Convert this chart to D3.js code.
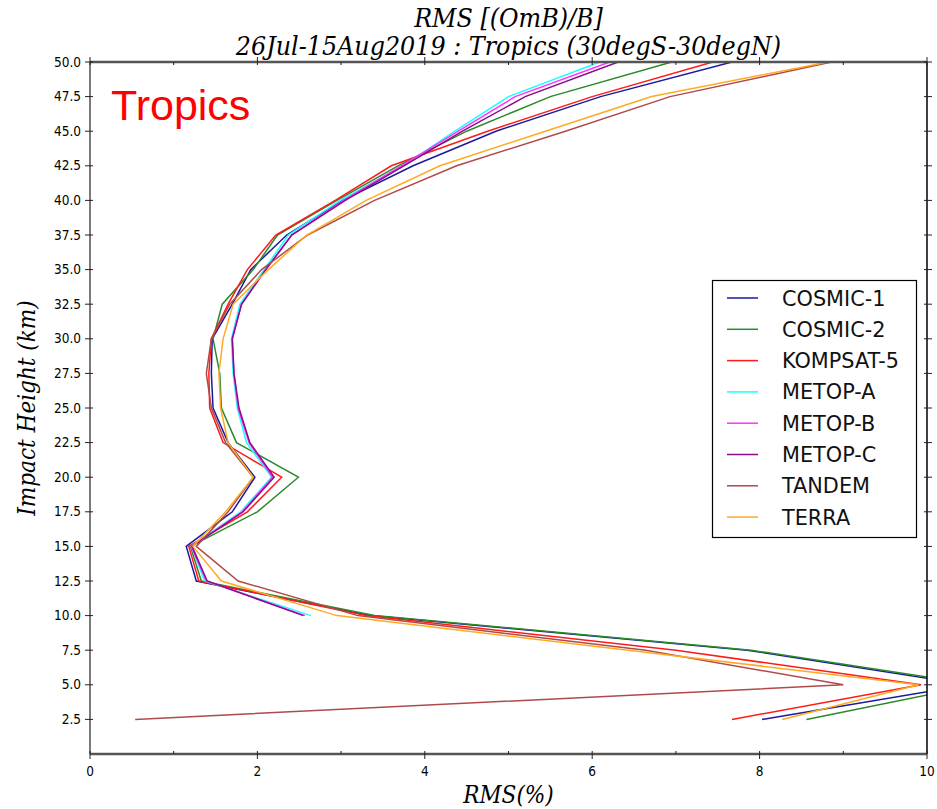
<!DOCTYPE html>
<html>
<head>
<meta charset="utf-8">
<script src="https://cdn.jsdelivr.net/npm/d3@7"></script>
<style>
  html, body { margin: 0; padding: 0; background: #fff; }
  svg { display: block; }
  .serif { font-family: "DejaVu Serif Condensed", "DejaVu Serif", serif; font-style: italic; font-stretch: condensed; }
  .tick { font-family: "DejaVu Sans Condensed", "DejaVu Sans", sans-serif; font-stretch: condensed; font-size: 13.5px; fill: #000; }
</style>
</head>
<body>
<svg id="chart" width="937" height="809"></svg>
<script>
// Impact heights (km) at which the RMS profiles are sampled
const levels = [2.5, 5, 7.5, 10, 12.5, 15, 17.5, 20, 22.5, 25, 27.5, 30, 32.5, 35, 37.5, 40, 42.5, 45, 47.5, 50];

// RMS of (O-B)/B in %, one value per level (null = no data)
const cosmic1  = [8.03, 10.5, 7.85, 3.35, 1.27, 1.15, 1.70, 1.97, 1.65, 1.47, 1.45, 1.46, 1.70, 1.92, 2.35, 3.02, 3.86, 4.85, 6.10, 7.67];
const cosmic2  = [8.56, 10.6, 7.90, 3.40, 1.33, 1.20, 2.00, 2.49, 1.75, 1.57, 1.55, 1.47, 1.58, 1.95, 2.24, 2.95, 3.68, 4.50, 5.50, 6.95];
const kompsat5 = [7.67, 9.93, 7.00, 3.30, 1.30, 1.18, 1.88, 2.29, 1.59, 1.43, 1.42, 1.45, 1.65, 1.88, 2.22, 2.93, 3.60, 4.75, 6.00, 7.44];
const metopA   = [null, null, null, 2.64, 1.37, 1.21, 1.80, 2.17, 1.87, 1.76, 1.71, 1.69, 1.79, 2.08, 2.37, 2.99, 3.74, 4.36, 5.00, 6.09];
const metopB   = [null, null, null, 2.57, 1.39, 1.21, 1.82, 2.18, 1.90, 1.77, 1.72, 1.70, 1.81, 2.10, 2.41, 3.03, 3.72, 4.40, 5.08, 6.21];
const metopC   = [null, null, null, 2.55, 1.40, 1.22, 1.83, 2.20, 1.91, 1.78, 1.72, 1.70, 1.81, 2.10, 2.41, 3.05, 3.75, 4.45, 5.20, 6.31];
const tandem   = [0.54, 9.00, 6.64, 3.20, 1.77, 1.27, 1.65, 1.95, 1.62, 1.45, 1.39, 1.45, 1.67, 2.05, 2.60, 3.40, 4.38, 5.68, 6.93, 8.86];
const terra    = [8.27, 9.90, 6.43, 2.95, 1.57, 1.23, 1.62, 1.95, 1.65, 1.56, 1.54, 1.59, 1.71, 2.13, 2.59, 3.30, 4.18, 5.44, 6.71, 8.82];

const missionNames  = ["COSMIC-1", "COSMIC-2", "KOMPSAT-5", "METOP-A", "METOP-B", "METOP-C", "TANDEM", "TERRA"];
const missionColors = ["#1a1a9c", "#2a8a2a", "#ff1a1a", "#1affff", "#ff33ff", "#8a0a8a", "#b04a4a", "#ffaa22"];
const missionValues = [cosmic1, cosmic2, kompsat5, metopA, metopB, metopC, tandem, terra];

const xMajorTicks = [0, 2, 4, 6, 8, 10];
const xMinorTicks = [1, 3, 5, 7, 9];
const yTicks = d3.range(1, 21).map(i => i * 2.5);

const titleLines = ["RMS [(OmB)/B]", "26Jul-15Aug2019 : Tropics (30degS-30degN)"];

const W = 937, H = 809;
const margin = { left: 90, right: 10, top: 62, bottom: 55 };
const x0 = margin.left, x1 = W - margin.right, y0 = margin.top, y1 = H - margin.bottom;

const x = d3.scaleLinear().domain([0, 10]).range([x0, x1]);
const y = d3.scaleLinear().domain([0, 50]).range([y1, y0]);

const svg = d3.select("#chart");

svg.append("defs").append("clipPath").attr("id", "plotClip")
  .append("rect").attr("x", x0).attr("y", y0).attr("width", x1 - x0).attr("height", y1 - y0);

// Profiles
const line = d3.line()
  .defined(d => d.v !== null)
  .x(d => x(d.v))
  .y(d => y(d.h));

const plot = svg.append("g").attr("clip-path", "url(#plotClip)");
missionValues.forEach((vals, i) => {
  const pts = levels.map((h, j) => ({ h: h, v: vals[j] }));
  plot.append("path")
    .attr("d", line(pts))
    .attr("fill", "none")
    .attr("stroke", missionColors[i])
    .attr("stroke-width", 1.5)
    .attr("stroke-linejoin", "miter");
});

// Frame
const frame = svg.append("g");
frame.append("line").attr("x1", x0).attr("x2", x0).attr("y1", y0).attr("y2", y1).attr("stroke", "#222").attr("stroke-width", 1.2);
frame.append("line").attr("x1", x1).attr("x2", x1).attr("y1", y0).attr("y2", y1).attr("stroke", "#000").attr("stroke-width", 1.5);
frame.append("line").attr("x1", x0).attr("x2", x1).attr("y1", y0).attr("y2", y0).attr("stroke", "#555").attr("stroke-width", 2.6);
frame.append("line").attr("x1", x0).attr("x2", x1).attr("y1", y1).attr("y2", y1).attr("stroke", "#555").attr("stroke-width", 2.6);

// Ticks
const tk = svg.append("g").attr("stroke", "#222").attr("stroke-width", 1);
xMajorTicks.forEach(v => {
  tk.append("line").attr("x1", x(v)).attr("x2", x(v)).attr("y1", y1 - 3).attr("y2", y1 + 5);
  tk.append("line").attr("x1", x(v)).attr("x2", x(v)).attr("y1", y0 + 3).attr("y2", y0 - 5);
});
xMinorTicks.forEach(v => {
  tk.append("line").attr("x1", x(v)).attr("x2", x(v)).attr("y1", y1 - 3).attr("y2", y1);
  tk.append("line").attr("x1", x(v)).attr("x2", x(v)).attr("y1", y0 + 3).attr("y2", y0);
});
yTicks.forEach(v => {
  tk.append("line").attr("x1", x0 - 5).attr("x2", x0 + 3).attr("y1", y(v)).attr("y2", y(v));
  tk.append("line").attr("x1", x1 - 3).attr("x2", x1 + 5).attr("y1", y(v)).attr("y2", y(v));
});

// Tick labels
svg.append("g").selectAll("text").data(xMajorTicks).join("text")
  .attr("class", "tick")
  .attr("x", d => x(d)).attr("y", y1 + 22)
  .attr("text-anchor", "middle")
  .text(d => d3.format("d")(d));

svg.append("g").selectAll("text").data(yTicks).join("text")
  .attr("class", "tick")
  .attr("x", x0 - 9).attr("y", d => y(d) + 4.5)
  .attr("text-anchor", "end")
  .text(d => d3.format(".1f")(d));

// Titles
svg.append("g").selectAll("text").data(titleLines).join("text")
  .attr("class", "serif")
  .attr("x", (x0 + x1) / 2).attr("y", (d, i) => 27 + i * 28)
  .attr("text-anchor", "middle")
  .attr("font-size", 26.5)
  .text(d => d);

svg.append("text").attr("class", "serif")
  .attr("x", (x0 + x1) / 2).attr("y", 803)
  .attr("text-anchor", "middle").attr("font-size", 24)
  .text("RMS(%)");

svg.append("text").attr("class", "serif")
  .attr("transform", `translate(35, ${(y0 + y1) / 2}) rotate(-90)`)
  .attr("text-anchor", "middle").attr("font-size", 24)
  .text("Impact Height (km)");

// Region label
svg.append("text")
  .attr("x", 111).attr("y", 120)
  .attr("font-family", "'Liberation Sans', Arial, sans-serif")
  .attr("font-size", 43).attr("fill", "#ff0000")
  .text("Tropics");

// Legend
const lg = svg.append("g");
lg.append("rect").attr("x", 712.5).attr("y", 280.5).attr("width", 204).attr("height", 257)
  .attr("fill", "#fff").attr("stroke", "#000").attr("stroke-width", 1.2);
missionNames.forEach((name, i) => {
  const yy = 298 + i * 31.3;
  lg.append("line").attr("x1", 727).attr("x2", 758).attr("y1", yy).attr("y2", yy)
    .attr("stroke", missionColors[i]).attr("stroke-width", 1.5);
  lg.append("text").attr("x", 782).attr("y", yy + 7.5)
    .attr("font-family", "'DejaVu Sans', sans-serif").attr("font-size", 20.8)
    .attr("fill", "#111").text(name);
});
</script>
</body>
</html>
